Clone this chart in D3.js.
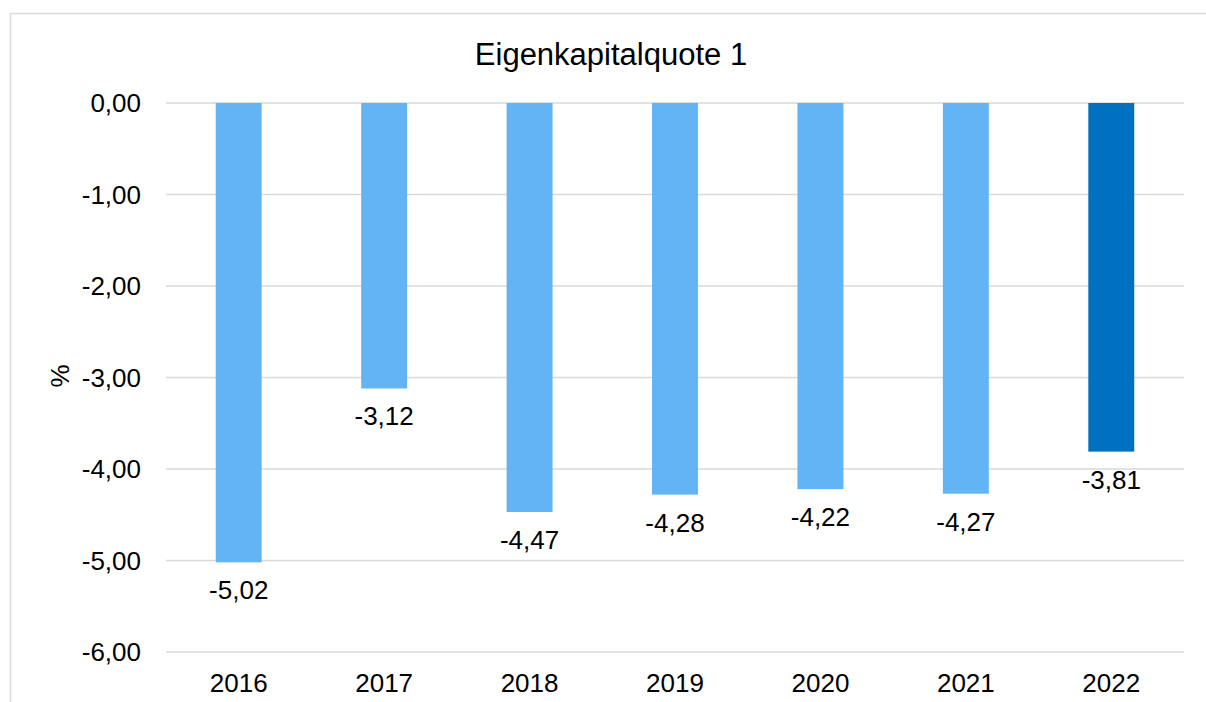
<!DOCTYPE html>
<html>
<head>
<meta charset="utf-8">
<script src="https://cdn.jsdelivr.net/npm/d3@7"></script>
<style>
  body { margin: 0; background: #fff; }
  text { font-family: "Liberation Sans", Arial, sans-serif; fill: #000; }
</style>
</head>
<body>
<svg id="chart"></svg>
<script>
const width = 1206;
const height = 702;

const years = ["2016", "2017", "2018", "2019", "2020", "2021", "2022"];
const values = [-5.02, -3.12, -4.47, -4.28, -4.22, -4.27, -3.81];
const yTicks = [0, -1, -2, -3, -4, -5, -6];

const margin = { top: 103, right: 22, bottom: 50, left: 166 };

const svg = d3.select("#chart")
    .attr("width", width)
    .attr("height", height);

// chart frame (cut off at right/bottom)
svg.append("rect")
    .attr("x", 10.5).attr("y", 13.5)
    .attr("width", 1220).attr("height", 720)
    .attr("fill", "none")
    .attr("stroke", "#d9d9d9")
    .attr("stroke-width", 1.5);

const x = d3.scaleBand()
    .domain(years)
    .range([margin.left, width - margin.right])
    .padding(0);

const y = d3.scaleLinear()
    .domain([0, -6])
    .range([margin.top, height - margin.bottom]);

const fmt = v => d3.format(".2f")(v).replace(".", ",").replace("−", "-");

// gridlines
svg.append("g")
    .selectAll("line")
    .data(yTicks)
    .enter().append("line")
    .attr("x1", margin.left)
    .attr("x2", width - margin.right)
    .attr("y1", d => y(d))
    .attr("y2", d => y(d))
    .attr("stroke", "#d9d9d9")
    .attr("stroke-width", 1.5);

// y tick labels
svg.append("g")
    .selectAll("text")
    .data(yTicks)
    .enter().append("text")
    .attr("x", 141)
    .attr("y", d => y(d) + 9)
    .attr("text-anchor", "end")
    .style("font-size", "26px")
    .text(d => fmt(d));

// bars
const barW = x.bandwidth() * 0.316;
svg.append("g")
    .selectAll("rect")
    .data(values)
    .enter().append("rect")
    .attr("x", (d, i) => x(years[i]) + x.bandwidth() / 2 - barW / 2)
    .attr("y", y(0))
    .attr("width", barW)
    .attr("height", d => y(d) - y(0))
    .attr("fill", (d, i) => i === values.length - 1 ? "#0070c0" : "#63b4f5");

// value labels
svg.append("g")
    .selectAll("text")
    .data(values)
    .enter().append("text")
    .attr("x", (d, i) => x(years[i]) + x.bandwidth() / 2)
    .attr("y", d => y(d) + 37)
    .attr("text-anchor", "middle")
    .style("font-size", "26px")
    .text(d => fmt(d));

// x labels
svg.append("g")
    .selectAll("text")
    .data(years)
    .enter().append("text")
    .attr("x", d => x(d) + x.bandwidth() / 2)
    .attr("y", 692)
    .attr("text-anchor", "middle")
    .style("font-size", "26px")
    .text(d => d);

// y axis title
svg.append("text")
    .attr("transform", "translate(69,376) rotate(-90)")
    .attr("text-anchor", "middle")
    .style("font-size", "26px")
    .text("%");

// title
svg.append("text")
    .attr("x", 611)
    .attr("y", 65)
    .attr("text-anchor", "middle")
    .style("font-size", "31px")
    .text("Eigenkapitalquote 1");
</script>
</body>
</html>
